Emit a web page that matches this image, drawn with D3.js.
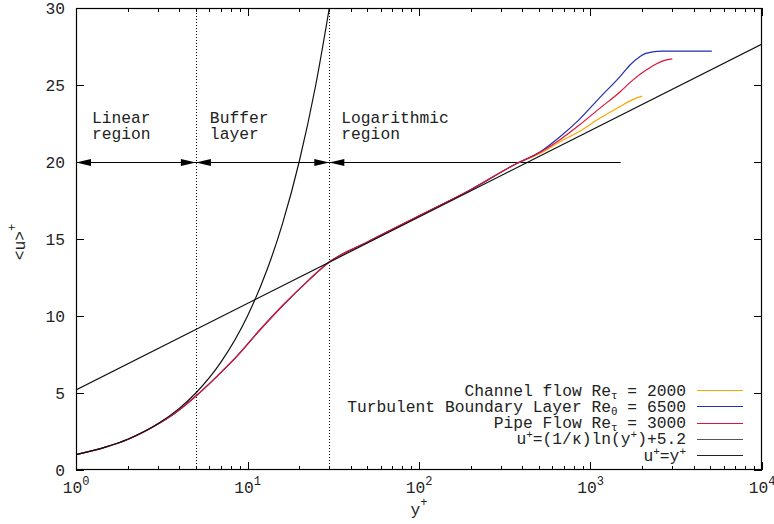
<!DOCTYPE html>
<html>
<head>
<meta charset="utf-8">
<script src="https://cdn.jsdelivr.net/npm/d3@7"></script>
<style>
  body { margin: 0; background: #fff; }
  svg text {
    font-family: "Liberation Mono", "DejaVu Sans Mono", monospace;
    font-size: 16.3px;
    fill: #222;
    white-space: pre;
  }
</style>
</head>
<body>
<div id="viz"></div>
<script>
// near-wall part shared by the three DNS profiles (y+, <u>+)
const innerProfile = [
  [1, 1.0], [1.5, 1.5], [2, 1.98], [2.69, 2.68], [3.52, 3.45], [4.93, 4.74],
  [6.59, 6.05], [8.63, 7.36], [11.8, 9.09], [16.1, 10.7], [22.6, 12.3],
  [30, 13.5], [50, 14.8], [100, 16.5], [200, 18.2], [371, 19.9]
];
// outer parts
const channelOuter = [
  [507, 20.55], [664, 21.32], [850, 21.95], [1136, 22.85], [1486, 23.6],
  [1700, 23.97], [2000, 24.28]
];
const boundaryLayerOuter = [
  [507, 20.65], [664, 21.64], [850, 22.7], [1136, 24.2], [1486, 25.55],
  [1700, 26.3], [1945, 26.85], [2100, 27.05], [2300, 27.15], [2600, 27.2],
  [3500, 27.2], [5100, 27.2]
];
const pipeOuter = [
  [507, 20.62], [664, 21.45], [850, 22.35], [1136, 23.5], [1486, 24.55],
  [1778, 25.35], [2100, 25.95], [2400, 26.35], [2700, 26.6], [3000, 26.7]
];
const logLawPoints = [[1, 5.2], [10000, 27.66]];
const linearLawPoints = [
  [1, 1], [1.5, 1.5], [2, 2], [3, 3], [4, 4], [5, 5], [7, 7], [10, 10],
  [13, 13], [16, 16], [20, 20], [25, 25], [30, 30]
];

const regionBounds = [1, 5, 30, 1500];
const regionLabels = [["Linear", "region"], ["Buffer", "layer"], ["Logarithmic", "region"]];
const arrowLevel = 20;

const yTicks = [0, 5, 10, 15, 20, 25, 30];
const xDecades = [0, 1, 2, 3, 4];

const legendItems = [
  { parts: [["Channel flow Re"], ["τ", "sub"], [" = 2000"]], color: "#ffa500" },
  { parts: [["Turbulent Boundary Layer Re"], ["θ", "sub"], [" = 6500"]], color: "#1f2fb0" },
  { parts: [["Pipe Flow Re"], ["τ", "sub"], [" = 3000"]], color: "#dc143c" },
  { parts: [["u"], ["+", "sup"], ["=(1/κ)ln(y"], ["+", "sup"], [")+5.2"]], color: "#555" },
  { parts: [["u"], ["+", "sup"], ["=y"], ["+", "sup"]], color: "#222" }
];

const width = 774, height = 524;
const margin = { top: 8, right: 12, bottom: 54, left: 76 };

const svg = d3.select("#viz").append("svg")
  .attr("width", width)
  .attr("height", height);

const x = d3.scaleLog()
  .domain([1, 1e4])
  .range([margin.left, width - margin.right]);

const y = d3.scaleLinear()
  .domain([0, 30])
  .range([height - margin.bottom, margin.top]);

const x0 = margin.left, x1 = width - margin.right;
const y0 = height - margin.bottom, y1 = margin.top;

svg.append("clipPath").attr("id", "plot-clip")
  .append("rect")
  .attr("x", x0).attr("y", y1)
  .attr("width", x1 - x0).attr("height", y0 - y1);

// ticks (gnuplot style: inward, mirrored)
const ticksG = svg.append("g").attr("stroke", "#000").attr("stroke-width", 1);
x.ticks().forEach(v => {
  const major = Math.abs(Math.log10(v) - Math.round(Math.log10(v))) < 1e-9;
  const len = major ? 8 : 4;
  const px = Math.round(x(v)) + 0.5;
  ticksG.append("line").attr("x1", px).attr("x2", px).attr("y1", y0).attr("y2", y0 - len);
  ticksG.append("line").attr("x1", px).attr("x2", px).attr("y1", y1).attr("y2", y1 + len);
});
yTicks.forEach(v => {
  const py = Math.round(y(v)) + 0.5;
  ticksG.append("line").attr("x1", x0).attr("x2", x0 + 8).attr("y1", py).attr("y2", py);
  ticksG.append("line").attr("x1", x1).attr("x2", x1 - 8).attr("y1", py).attr("y2", py);
});

// tick labels
svg.append("g").selectAll("text")
  .data(yTicks)
  .join("text")
  .attr("x", x0 - 11)
  .attr("y", d => y(d))
  .attr("dy", "0.35em")
  .attr("text-anchor", "end")
  .text(d => d);

xDecades.forEach(k => {
  const t = svg.append("text")
    .attr("x", x(Math.pow(10, k)))
    .attr("y", y0 + 23)
    .attr("text-anchor", "middle");
  t.append("tspan").text("10");
  t.append("tspan").attr("dy", -8).attr("font-size", "12px").text(k);
});

// axis labels
const xl = svg.append("text")
  .attr("x", x(100))
  .attr("y", y0 + 45)
  .attr("text-anchor", "middle");
xl.append("tspan").text("y");
xl.append("tspan").attr("dy", -9).attr("font-size", "12px").text("+");

const yl = svg.append("text")
  .attr("transform", `translate(25,${(y0 + y1) / 2 + 3}) rotate(-90)`)
  .attr("text-anchor", "middle");
yl.append("tspan").text("<u>");
yl.append("tspan").attr("dy", -9).attr("font-size", "12px").text("+");

// region dividers
const plot = svg.append("g").attr("clip-path", "url(#plot-clip)");
[regionBounds[1], regionBounds[2]].forEach(v => {
  const px = Math.round(x(v)) + 0.5;
  plot.append("line")
    .attr("x1", px).attr("x2", px)
    .attr("y1", y(0)).attr("y2", y(30))
    .attr("stroke", "#000")
    .attr("stroke-width", 1)
    .attr("stroke-dasharray", "1,2");
});

// arrows
const ay = Math.round(y(arrowLevel)) + 0.5;
function arrowHead(px, dir) {
  // dir: -1 tip points left, +1 tip points right
  const L = 15, H = 3.5;
  plot.append("path")
    .attr("d", `M${px},${ay} L${px - dir * L},${ay - H} L${px - dir * L},${ay + H} Z`)
    .attr("fill", "#000");
}
for (let i = 0; i < 3; i++) {
  const a = x(regionBounds[i]), b = x(regionBounds[i + 1]);
  plot.append("line")
    .attr("x1", a).attr("x2", b)
    .attr("y1", ay).attr("y2", ay)
    .attr("stroke", "#000").attr("stroke-width", 1.2);
  arrowHead(a, -1);
  if (i < 2) arrowHead(b, 1);
}

// region labels
regionLabels.forEach((lines, i) => {
  const lx = x(regionBounds[i]) + [16, 14, 12][i];
  lines.forEach((s, j) => {
    svg.append("text")
      .attr("x", lx)
      .attr("y", y(arrowLevel) - 39 + j * 16)
      .text(s);
  });
});

// curves
const line = d3.line()
  .x(d => x(d[0]))
  .y(d => y(d[1]))
  .curve(d3.curveMonotoneX);

const series = [
  { data: innerProfile.concat(channelOuter), color: legendItems[0].color },
  { data: innerProfile.concat(boundaryLayerOuter), color: legendItems[1].color },
  { data: innerProfile.concat(pipeOuter), color: legendItems[2].color },
  { data: logLawPoints, color: "#111" },
  { data: linearLawPoints, color: "#111" }
];
series.forEach(s => {
  plot.append("path")
    .datum(s.data)
    .attr("fill", "none")
    .attr("stroke", s.color)
    .attr("stroke-width", 1.2)
    .attr("d", line);
});

// legend
legendItems.forEach((item, i) => {
  const ly = 390 + i * 16.25;
  const t = svg.append("text")
    .attr("x", 686)
    .attr("y", ly)
    .attr("dy", "0.35em")
    .attr("text-anchor", "end");
  let shift = 0;
  item.parts.forEach(([s, kind]) => {
    const ts = t.append("tspan").text(s);
    if (kind === "sub") { ts.attr("font-size", "11px").attr("dy", 3 - shift); shift = 3; }
    else if (kind === "sup") { ts.attr("font-size", "11px").attr("dy", -6 - shift); shift = -6; }
    else if (shift) { ts.attr("dy", -shift); shift = 0; }
  });
  svg.append("line")
    .attr("x1", 697).attr("x2", 743)
    .attr("y1", Math.round(ly) + 0.5).attr("y2", Math.round(ly) + 0.5)
    .attr("stroke", item.color)
    .attr("stroke-width", 1.2);
});

// border
svg.append("rect")
  .attr("x", x0 + 0.5).attr("y", y1 + 0.5)
  .attr("width", x1 - x0 - 1).attr("height", y0 - y1 - 1)
  .attr("fill", "none")
  .attr("stroke", "#000")
  .attr("stroke-width", 1.2);
</script>
</body>
</html>
